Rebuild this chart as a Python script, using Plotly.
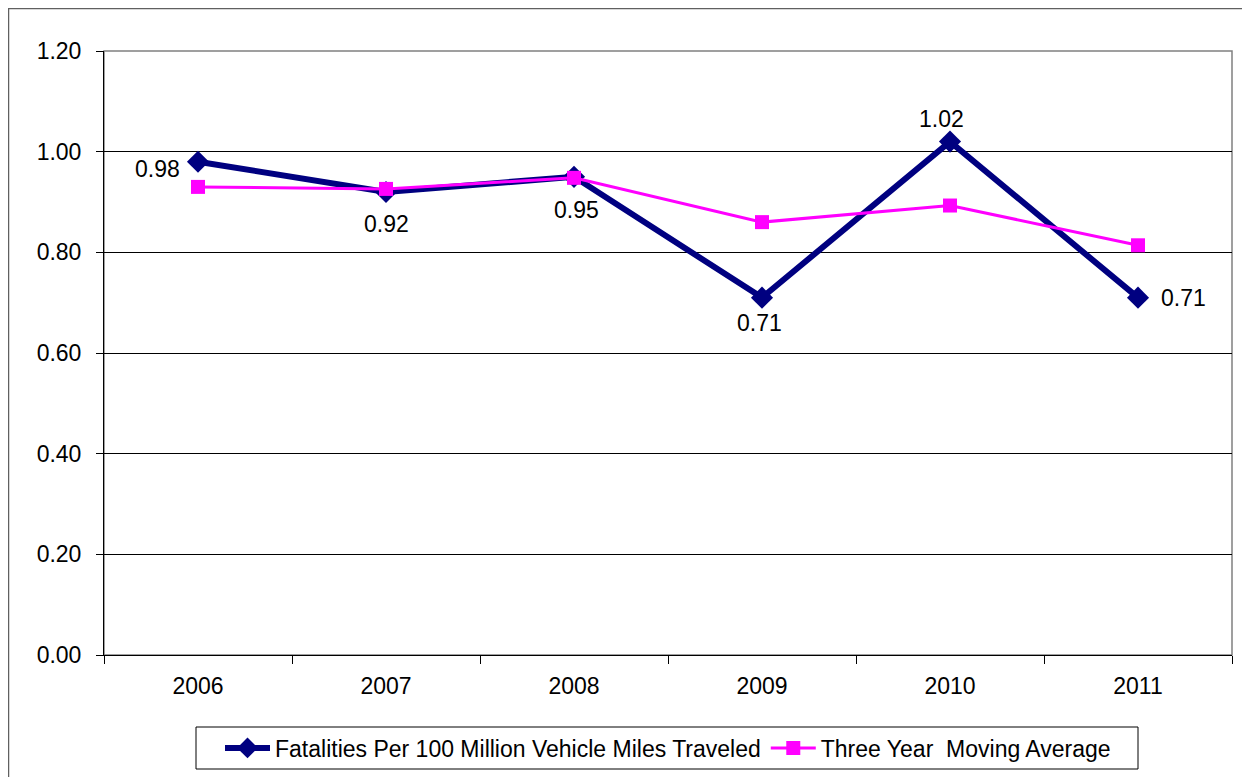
import plotly.graph_objects as go

years = ["2006", "2007", "2008", "2009", "2010", "2011"]
fatality_rate = [0.98, 0.92, 0.95, 0.71, 1.02, 0.71]
moving_avg = [0.93, 0.926, 0.948, 0.86, 0.893, 0.814]

# label offsets (pixels) for the data labels, relative to the marker
label_xshift = [-41, 0, 2, -3, -9, 45]
label_yshift = [-7, -32, -33, -25, 23, 0]

OFF = 8  # page body margin
W, H = 1250, 777
PX0, PX1, PY0, PY1 = 104, 1232, 51, 655
L = PX0 - OFF
T = PY0 - OFF
R = W - (PX1 - OFF)
B = H - (PY1 - OFF)
pw = PX1 - PX0
ph = PY1 - PY0

def px_x(x):
    return (x - PX0) / pw

def px_y(y):
    return (PY1 - y) / ph

FONT = "Liberation Sans, Arial, sans-serif"

fig = go.Figure()
fig.add_trace(go.Scatter(
    x=years, y=fatality_rate, mode="lines+markers",
    name="Fatalities Per 100 Million Vehicle Miles Traveled",
    line=dict(color="#000080", width=6),
    marker=dict(symbol="diamond", size=17, color="#000080"),
))
fig.add_trace(go.Scatter(
    x=years, y=moving_avg, mode="lines+markers",
    name="Three Year  Moving Average",
    line=dict(color="#FF00FF", width=3),
    marker=dict(symbol="square", size=14, color="#FF00FF"),
))

for i, (v, dx, dy) in enumerate(zip(fatality_rate, label_xshift, label_yshift)):
    fig.add_annotation(
        x=i, y=v, xref="x", yref="y", text=f"{v:.2f}", showarrow=False,
        xshift=dx, yshift=dy, font=dict(family=FONT, size=23, color="black"),
        xanchor="center", yanchor="middle",
    )

fig.update_layout(
    width=W, height=H,
    margin=dict(l=L, r=R, t=T, b=B),
    paper_bgcolor="white", plot_bgcolor="white",
    font=dict(family=FONT, size=23, color="black"),
    showlegend=True,
    legend=dict(
        orientation="h", xanchor="left", x=px_x(220), yanchor="middle", y=px_y(748),
        borderwidth=0, bgcolor="rgba(0,0,0,0)",
        font=dict(family=FONT, size=23), itemwidth=45, traceorder="normal",
    ),
    xaxis=dict(
        type="category", tickson="boundaries", ticks="outside", ticklen=8,
        tickcolor="black", showline=True, linecolor="black", linewidth=1,
        showgrid=False, tickfont=dict(size=23), range=[-0.5, 5.5],
        ticklabelstandoff=10,
    ),
    yaxis=dict(
        range=[0, 1.2], dtick=0.2, tickformat=".2f", ticks="outside", ticklen=7,
        tickcolor="black", showline=True, linecolor="black", linewidth=1,
        showgrid=True, gridcolor="black", gridwidth=1, zeroline=False,
        tickfont=dict(size=23), ticklabelstandoff=10,
    ),
    shapes=[
        dict(type="rect", xref="paper", yref="paper", x0=0, x1=1, y0=0, y1=1,
             line=dict(color="#808080", width=1.5), fillcolor="rgba(0,0,0,0)", layer="below"),
        dict(type="rect", xref="paper", yref="paper",
             x0=px_x(8.5), x1=px_x(1275), y0=px_y(800), y1=px_y(8.5),
             line=dict(color="#606060", width=1.5), fillcolor="rgba(0,0,0,0)"),
        dict(type="rect", xref="paper", yref="paper",
             x0=px_x(196), x1=px_x(1138), y0=px_y(769), y1=px_y(727),
             line=dict(color="black", width=1), fillcolor="white", layer="below"),
    ],
)

fig.write_html("out.html")
